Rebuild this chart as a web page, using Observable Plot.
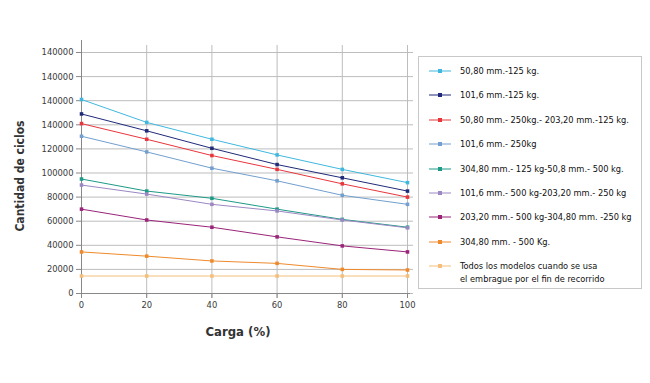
<!DOCTYPE html>
<html><head><meta charset="utf-8">
<script src="https://cdn.jsdelivr.net/npm/d3@7"></script>
<script src="https://cdn.jsdelivr.net/npm/@observablehq/plot@0.6"></script>
<style>
body{margin:0;background:#fff;}
#wrap{position:relative;width:650px;height:383px;font-family:"DejaVu Sans Condensed","DejaVu Sans",sans-serif;background:#fff;overflow:hidden;}
#legend{position:absolute;left:418px;top:56px;width:224px;height:233px;border:1px solid #c8c8c8;box-sizing:border-box;}
.item{position:absolute;left:0;font-size:9.2px;color:#111;line-height:12.5px;}
.item svg{position:absolute;left:9px;top:0;}
.item span{position:absolute;left:41px;top:0;white-space:nowrap;}
.title{position:absolute;font-weight:bold;color:#333;white-space:nowrap;}
</style></head><body><div id="wrap"></div>
<script>
const cargas = [0, 20, 40, 60, 80, 100];
const seriesNames = [
  "50,80 mm.-125 kg.",
  "101,6 mm.-125 kg.",
  "50,80 mm.- 250kg.- 203,20 mm.-125 kg.",
  "101,6 mm.- 250kg",
  "304,80 mm.- 125 kg-50,8 mm.- 500 kg.",
  "101,6 mm.- 500 kg-203,20 mm.- 250 kg",
  "203,20 mm.- 500 kg-304,80 mm. -250 kg",
  "304,80 mm. - 500 Kg.",
  "Todos los modelos cuando se usa|el embrague por el fin de recorrido"
];
const s1 = [161000, 142000, 128000, 115000, 103000, 92000];
const s2 = [149000, 135000, 120500, 107000, 96000, 85000];
const s3 = [141000, 128000, 114500, 103000, 91000, 80000];
const s4 = [130500, 117500, 104000, 93500, 81500, 74000];
const s5 = [95000, 85000, 79000, 70000, 61500, 55000];
const s6 = [90000, 82500, 74000, 68500, 61000, 54500];
const s7 = [70000, 61000, 55000, 47000, 39500, 34500];
const s8 = [34500, 31000, 27000, 25000, 20000, 19500];
const s9 = [14500, 14500, 14500, 14500, 14500, 14500];
const seriesValues = [s1, s2, s3, s4, s5, s6, s7, s8, s9];
const colors = ["#3fb8df", "#1f2a78", "#e8363c", "#729fcf", "#1d9a88", "#9b88c2", "#9a2479", "#ef8a2c", "#f4bf7a"];
const xTicks = [0, 20, 40, 60, 80, 100];
const yTicks = [0, 20000, 40000, 60000, 80000, 100000, 120000, 140000, 160000, 180000, 200000];
const yTickLabels = ["0", "20000", "40000", "60000", "80000", "100000", "120000", "140000", "140000", "140000", "140000"];

const data = [];
seriesNames.forEach((name, i) => cargas.forEach((c, j) => data.push({serie: name, carga: c, ciclos: seriesValues[i][j]})));

const font = '"DejaVu Sans Condensed","DejaVu Sans",sans-serif';
const chart = Plot.plot({
  width: 650, height: 383,
  marginLeft: 81, marginRight: 243, marginTop: 52, marginBottom: 90,
  style: {fontFamily: font, fontSize: "9.3px", color: "#444", background: "transparent", overflow: "visible"},
  x: {domain: [0, 100]},
  y: {domain: [0, 200000]},
  color: {domain: seriesNames, range: colors},
  marks: [
    Plot.gridY(yTicks, {stroke: "#bdbdbd", strokeOpacity: 1, insetRight: -6}),
    Plot.gridX(xTicks, {stroke: "#bdbdbd", strokeOpacity: 1, insetTop: -7, insetBottom: -5}),
    Plot.axisY(yTicks, {tickFormat: d => yTickLabels[yTicks.indexOf(d)], tickSize: 5, tickPadding: 3, stroke: "#888", fill: "#3a3a3a", label: null}),
    Plot.axisX(xTicks, {tickSize: 5, tickPadding: 3, stroke: "#888", fill: "#3a3a3a", label: null}),
    Plot.ruleX([0], {stroke: "#888", insetTop: -12, insetBottom: -4}),
    Plot.ruleY([0], {stroke: "#888", insetRight: -3}),
    Plot.line(data, {x: "carga", y: "ciclos", stroke: "serie", strokeWidth: 1}),
    Plot.dot(data, {x: "carga", y: "ciclos", fill: "serie", symbol: "square", r: 2})
  ]
});
const wrap = document.getElementById("wrap");
wrap.appendChild(chart);

const xt = document.createElement("div");
xt.className = "title";
xt.style.cssText = "left:238px;top:331px;transform:translate(-50%,-50%);font-size:13px;";
xt.textContent = "Carga (%)";
wrap.appendChild(xt);
const yt = document.createElement("div");
yt.className = "title";
yt.style.cssText = "left:20px;top:176px;transform:translate(-50%,-50%) rotate(-90deg);font-size:12px;";
yt.textContent = "Cantidad de ciclos";
wrap.appendChild(yt);

const legend = document.createElement("div");
legend.id = "legend";
seriesNames.forEach((name, i) => {
  const it = document.createElement("div");
  it.className = "item";
  it.style.top = (8 + i * 24.4) + "px";
  const sw = `<svg width="24" height="12"><line x1="1" x2="23" y1="6" y2="6" stroke="${colors[i]}" stroke-width="1"/><rect x="10" y="4" width="4" height="4" fill="${colors[i]}"/></svg>`;
  it.innerHTML = sw + `<span>${name.split("|").join("<br>")}</span>`;
  legend.appendChild(it);
});
wrap.appendChild(legend);
</script>
</body></html>
